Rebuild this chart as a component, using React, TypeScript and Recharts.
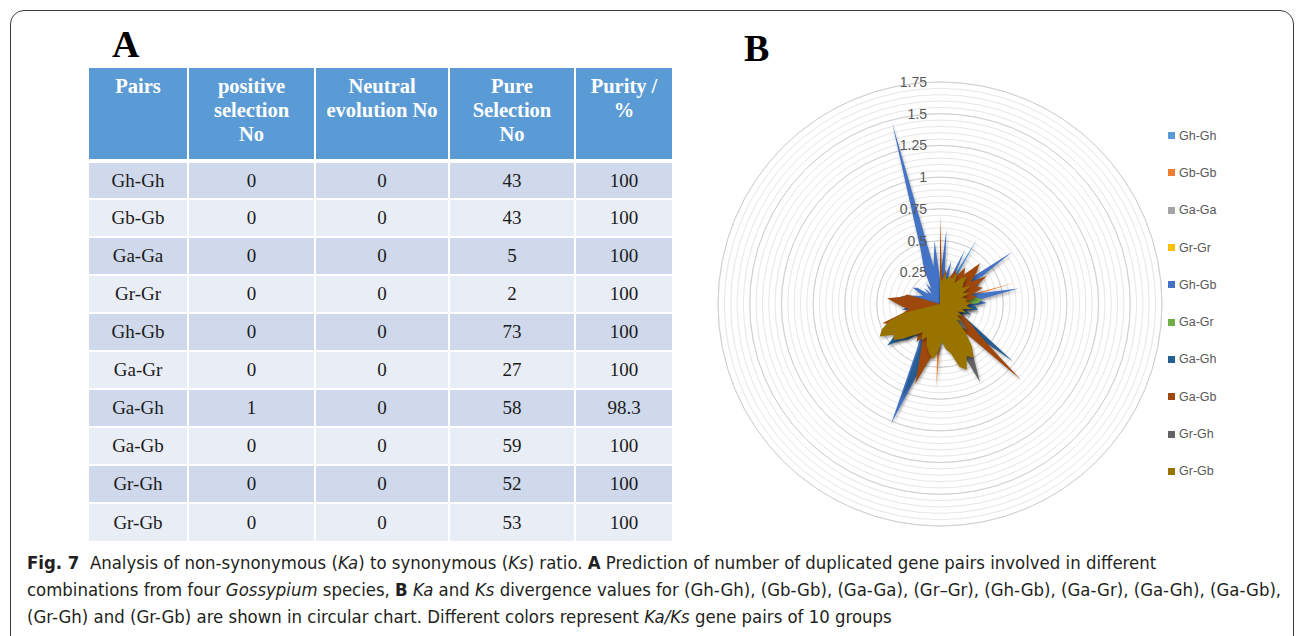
import { PolarAngleAxis, PolarGrid, PolarRadiusAxis, Radar, RadarChart } from "recharts";

// ---- Panel A table ----
const PAIRS = ["Gh-Gh", "Gb-Gb", "Ga-Ga", "Gr-Gr", "Gh-Gb", "Ga-Gr", "Ga-Gh", "Ga-Gb", "Gr-Gh", "Gr-Gb"];
const POSITIVE = [0, 0, 0, 0, 0, 0, 1, 0, 0, 0];
const NEUTRAL = [0, 0, 0, 0, 0, 0, 0, 0, 0, 0];
const PURE = [43, 43, 5, 2, 73, 27, 58, 59, 52, 53];
const PURITY = ["100", "100", "100", "100", "100", "100", "98.3", "100", "100", "100"];
const HEADERS = [["Pairs"], ["positive", "selection", "No"], ["Neutral", "evolution No"], ["Pure", "Selection", "No"], ["Purity /", "%"]];
const COL_WIDTHS = [100, 127, 134, 126, 96];

// ---- Panel B radar (Ka/Ks per gene pair) ----
const SERIES_NAMES = ["Gh-Gh", "Gb-Gb", "Ga-Ga", "Gr-Gr", "Gh-Gb", "Ga-Gr", "Ga-Gh", "Ga-Gb", "Gr-Gh", "Gr-Gb"];
const SERIES_COLORS = ["#5B9BD5", "#ED7D31", "#A5A5A5", "#FFC000", "#4472C4", "#70AD47", "#255E91", "#9E480E", "#636363", "#997300"];

const GH_GH = [
  0.12, 0.15, 0.08, 0.22, 0.1, 0.18, 0.59, 0.14, 0.2, 0.09,
  0.16, 0.21, 0.11, 0.07, 0.19, 0.13, 0.24, 0.1, 0.15, 0.08,
  0.17, 0.12, 0.26, 0.09, 0.14, 0.2, 0.11, 0.16, 0.1, 0.18,
  0.13, 0.22, 0.15, 0.09, 0.2, 0.12, 0.28, 0.16, 0.1, 0.19,
  0.14, 0.08, 0.17,
];
const GB_GB = [
  0.1, 0.14, 0.2, 0.09, 0.16, 0.12, 0.18, 0.11, 0.22, 0.15,
  0.08, 0.19, 0.13, 0.17, 0.1, 0.61, 0.14, 0.2, 0.12, 0.3,
  0.09, 0.16, 0.11, 0.18, 0.14, 0.1, 0.21, 0.13, 0.17, 0.09,
  0.15, 0.2, 0.12, 0.18, 0.1, 0.14, 0.22, 0.65, 0.13, 0.19,
  0.11, 0.16, 0.1,
];
const GA_GA = [0.18, 0.12, 0.21, 0.15, 0.1];
const GR_GR = [0.14, 0.09];
const GH_GB = [
  0.2, 0.59, 0.22, 0.35, 0.18, 0.47, 0.2, 0.3, 0.25, 0.38,
  0.3, 0.7, 0.28, 0.35, 0.24, 0.3, 0.63, 0.3, 0.37, 0.25,
  0.3, 0.2, 0.26, 0.18, 0.22, 0.3, 0.55, 0.4, 0.25, 0.3,
  0.22, 0.35, 0.28, 0.2, 0.24, 0.3, 0.22, 0.4, 0.3, 0.45,
  0.55, 1.02, 0.4, 0.28, 0.32, 0.25, 0.38, 0.45, 0.3, 0.34,
  0.28, 0.36, 0.22, 0.3, 0.25, 0.2, 0.28, 0.3, 0.24, 0.18,
  0.15, 0.25, 0.22, 0.12, 0.18, 0.1, 0.2, 0.14, 0.3, 0.45,
  1.48, 0.3, 0.5,
];
const GA_GR = [
  0.12, 0.1, 0.15, 0.08, 0.14, 0.11, 0.16, 0.09, 0.13, 0.18,
  0.12, 0.2, 0.25, 0.2, 0.15, 0.22, 0.28, 0.34, 0.3, 0.14,
  0.1, 0.16, 0.12, 0.09, 0.13, 0.1, 0.15,
];
const GA_GH = [
  0.15, 0.2, 0.12, 0.18, 0.1, 0.22, 0.14, 0.25, 0.3, 0.2,
  0.16, 0.35, 0.22, 0.18, 0.26, 0.2, 0.3, 0.15, 0.22, 0.28,
  0.3, 0.2, 0.25, 0.18, 0.22, 0.35, 0.73, 0.3, 0.25, 0.2,
  0.28, 0.22, 0.18, 0.25, 0.2, 0.15, 0.22, 0.28, 0.35, 0.3,
  0.5, 0.8, 0.3, 0.25, 0.3, 0.38, 0.42, 0.53, 0.4, 0.35,
  0.3, 0.42, 0.25, 0.2, 0.3, 0.22, 0.25, 0.32, 0.2,
];
const GA_GB = [
  0.69, 0.2, 0.28, 0.18, 0.22, 0.3, 0.25, 0.35, 0.3, 0.45,
  0.38, 0.3, 0.43, 0.32, 0.36, 0.26, 0.3, 0.22, 0.25, 0.2,
  0.24, 0.18, 0.2, 0.15, 0.22, 0.3, 0.4, 0.87, 0.32, 0.28,
  0.35, 0.4, 0.3, 0.25, 0.2, 0.28, 0.25, 0.35, 0.4, 0.48,
  0.66, 0.4, 0.3, 0.35, 0.28, 0.32, 0.38, 0.3, 0.42, 0.36,
  0.4, 0.48, 0.3, 0.25, 0.3, 0.35, 0.42, 0.3, 0.27,
];
const GR_GH = [
  0.15, 0.12, 0.18, 0.1, 0.14, 0.2, 0.12, 0.16, 0.1, 0.22,
  0.15, 0.18, 0.12, 0.2, 0.14, 0.1, 0.16, 0.12, 0.18, 0.14,
  0.2, 0.15, 0.12, 0.18, 0.1, 0.16, 0.22, 0.3, 0.25, 0.3,
  0.5, 0.69, 0.3, 0.25, 0.2, 0.28, 0.22, 0.18, 0.25, 0.2,
  0.3, 0.22, 0.18, 0.25, 0.2, 0.28, 0.22, 0.3, 0.25, 0.2,
  0.18, 0.15,
];
const GR_GB = [
  0.22, 0.18, 0.25, 0.2, 0.24, 0.22, 0.28, 0.2, 0.26, 0.3,
  0.24, 0.22, 0.28, 0.2, 0.25, 0.18, 0.22, 0.2, 0.24, 0.21,
  0.26, 0.18, 0.22, 0.15, 0.2, 0.16, 0.22, 0.18, 0.3, 0.42,
  0.5, 0.46, 0.56, 0.52, 0.4, 0.36, 0.3, 0.38, 0.44, 0.4,
  0.35, 0.28, 0.32, 0.26, 0.3, 0.34, 0.4, 0.46, 0.44, 0.54,
  0.5, 0.42, 0.3,
];
const SERIES_VALUES = [GH_GH, GB_GB, GA_GA, GR_GR, GH_GB, GA_GR, GA_GH, GA_GB, GR_GH, GR_GB];

const MAJOR_TICKS = [0, 0.25, 0.5, 0.75, 1, 1.25, 1.5, 1.75];
const MINOR_TICKS = [
  0, 0.05, 0.1, 0.15, 0.2, 0.25, 0.3, 0.35, 0.4, 0.45, 0.5, 0.55, 0.6, 0.65, 0.7, 0.75, 0.8, 0.85,
  0.9, 0.95, 1, 1.05, 1.1, 1.15, 1.2, 1.25, 1.3, 1.35, 1.4, 1.45, 1.5, 1.55, 1.6, 1.65, 1.7, 1.75,
];

// Excel-style radar: all series share the categories; shorter series end at 0
const nCats = Math.max(...SERIES_VALUES.map((s) => s.length));
const radarData = Array.from({ length: nCats }, (_, i) => {
  const row: Record<string, number> = { idx: i };
  SERIES_NAMES.forEach((name, s) => {
    row[name] = SERIES_VALUES[s][i] ?? 0;
  });
  return row;
});

const serif = '"Liberation Serif", "Times New Roman", serif';
const sans = '"Liberation Sans", Arial, sans-serif';

// recharts rounds the radius domain up to 2, so the axis runs 0..2 and the
// rings stop at 1.75 (the last tick), which should land at 222px
const AXIS_MAX = 2;
const LAST_RING = 1.75;
const RING_R = 222;
const OUTER_R = (RING_R * AXIS_MAX) / LAST_RING;
const SIZE = 520;
const majorRadii = MAJOR_TICKS.map((t) => (t / AXIS_MAX) * OUTER_R);

function RadiusTick(props: any) {
  const v = props.payload?.value;
  if (!MAJOR_TICKS.includes(v) || v === 0) return <g />;
  return (
    <text x={props.x - 13} y={props.y} dy={5} textAnchor="end" fill="#595959" fontSize={14} fontFamily={sans}>
      {v}
    </text>
  );
}

function KaKsRadar() {
  return (
    <RadarChart width={SIZE} height={SIZE} data={radarData} cx={SIZE / 2} cy={SIZE / 2} outerRadius={OUTER_R} margin={{ top: 0, right: 0, bottom: 0, left: 0 }}>
      <PolarGrid gridType="circle" radialLines={false} stroke="#E6E6E6" />
      <PolarGrid gridType="circle" radialLines={false} stroke="#D0D0D0" polarRadius={majorRadii} />
      <PolarAngleAxis dataKey="idx" tick={false} axisLine={false} tickLine={false} />
      {SERIES_NAMES.map((name, i) => (
        <Radar
          key={name}
          name={name}
          dataKey={name}
          stroke="none"
          fill={SERIES_COLORS[i]}
          fillOpacity={1}
          dot={false}
          isAnimationActive={false}
        />
      ))}
      <PolarRadiusAxis
        angle={90}
        type="number"
        domain={[0, AXIS_MAX]}
        allowDataOverflow
        ticks={MINOR_TICKS}
        tick={RadiusTick}
        axisLine={false}
        tickLine={false}
      />
    </RadarChart>
  );
}

function SeriesLegend() {
  return (
    <div style={{ position: "absolute", left: 1168, top: 117 }}>
      {SERIES_NAMES.map((name, i) => (
        <div key={name} style={{ height: 37.3, display: "flex", alignItems: "center", fontFamily: sans, fontSize: 12.5, color: "#595959" }}>
          <span style={{ width: 7, height: 7, background: SERIES_COLORS[i], marginRight: 4, display: "inline-block" }} />
          {name}
        </div>
      ))}
    </div>
  );
}

function PairsTable() {
  const cell = (w: number, last: boolean, extra: any = {}) => ({
    width: w - (last ? 0 : 2),
    borderRight: last ? "none" : "2px solid #fff",
    textAlign: "center" as const,
    padding: 0,
    ...extra,
  });
  return (
    <table style={{ position: "absolute", left: 89, top: 68, borderCollapse: "collapse", tableLayout: "fixed", fontFamily: serif }}>
      <thead>
        <tr style={{ background: "#5B9BD5", height: 93, borderBottom: "4px solid #fff" }}>
          {HEADERS.map((h, c) => (
            <th
              key={c}
              style={cell(COL_WIDTHS[c], c === 4, {
                verticalAlign: "top",
                paddingTop: 6,
                color: "#fff",
                fontSize: 20.5,
                lineHeight: "24px",
                fontWeight: "bold",
              })}
            >
              {h.map((line, k) => (
                <div key={k}>{line}</div>
              ))}
            </th>
          ))}
        </tr>
      </thead>
      <tbody>
        {PAIRS.map((p, r) => {
          const vals = [p, POSITIVE[r], NEUTRAL[r], PURE[r], PURITY[r]];
          return (
            <tr key={p} style={{ height: 38, background: r % 2 === 0 ? "#CFD9EB" : "#E9EDF6", borderBottom: r === PAIRS.length - 1 ? "none" : "2px solid #fff" }}>
              {vals.map((v, c) => (
                <td key={c} style={cell(COL_WIDTHS[c], c === 4, { fontSize: 19, color: "#1b1b1b", verticalAlign: "middle" })}>
                  {v}
                </td>
              ))}
            </tr>
          );
        })}
      </tbody>
    </table>
  );
}

export default function App() {
  const capFont = '"Liberation Sans Narrow", "DejaVu Sans Condensed", "Noto Sans", sans-serif';
  return (
    <div style={{ position: "absolute", left: 0, top: 0, width: 1298, height: 636, overflow: "hidden", background: "#fff" }}>
      <style>{`.recharts-radar-polygon { filter: drop-shadow(1px 2px 1.5px rgba(0,0,0,0.35)); }`}</style>
      <div style={{ position: "absolute", left: 10, top: 10, width: 1282, height: 660, border: "1.5px solid #3a3a3a", borderRadius: 14 }} />
      <div style={{ position: "absolute", left: 112, top: 22, fontFamily: serif, fontWeight: "bold", fontSize: 38 }}>A</div>
      <div style={{ position: "absolute", left: 744, top: 26, fontFamily: serif, fontWeight: "bold", fontSize: 38 }}>B</div>
      <PairsTable />
      <div style={{ position: "absolute", left: 940 - SIZE / 2, top: 304 - SIZE / 2 }}>
        <KaKsRadar />
      </div>
      <SeriesLegend />
      <div style={{ position: "absolute", left: 27, top: 549, fontFamily: capFont, fontSize: 18.4, lineHeight: "27px", color: "#231F20", whiteSpace: "nowrap" }}>
        <div>
          <b>Fig. 7</b>&nbsp; Analysis of non-synonymous (<i>Ka</i>) to synonymous (<i>Ks</i>) ratio. <b>A</b> Prediction of number of duplicated gene pairs involved in different
        </div>
        <div>
          combinations from four <i>Gossypium</i> species, <b>B</b> <i>Ka</i> and <i>Ks</i> divergence values for (Gh-Gh), (Gb-Gb), (Ga-Ga), (Gr–Gr), (Gh-Gb), (Ga-Gr), (Ga-Gh), (Ga-Gb),
        </div>
        <div>
          (Gr-Gh) and (Gr-Gb) are shown in circular chart. Different colors represent <i>Ka/Ks</i> gene pairs of 10 groups
        </div>
      </div>
    </div>
  );
}
